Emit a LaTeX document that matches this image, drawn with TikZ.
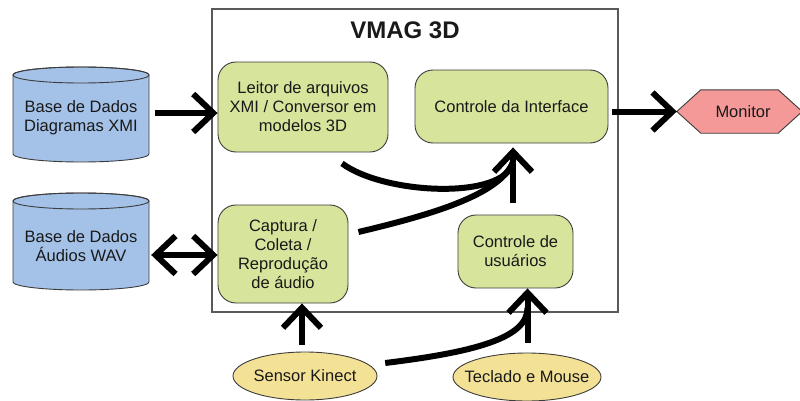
\documentclass[tikz,border=0pt]{standalone}
\usepackage{fontspec}
\setmainfont{Liberation Sans}
\usetikzlibrary{arrows.meta,shapes.geometric}
\definecolor{boxgreen}{RGB}{215,228,156}
\definecolor{cylblue}{RGB}{164,194,232}
\definecolor{ellyellow}{RGB}{243,226,150}
\definecolor{monred}{RGB}{244,152,152}
\definecolor{edge}{RGB}{60,60,60}
\begin{document}
\begin{tikzpicture}[x=1pt,y=1pt,
  txt/.style={font=\fontsize{16.5}{19}\selectfont, align=center, text=black!90},
  gbox/.style={txt, draw=edge, line width=0.9pt, fill=boxgreen, rounded corners=18pt, inner sep=0pt},
  shapeline/.style={draw=edge, line width=0.9pt},
  big/.style={line width=6pt, -{Straight Barb[length=20pt,width=38pt]}},
  bigboth/.style={line width=6pt, {Straight Barb[length=20pt,width=38pt]}-{Straight Barb[length=20pt,width=38pt]}},
  curve/.style={line width=6pt},
]
\useasboundingbox (0,0) rectangle (800,400);
% main frame
\node[draw=black!65, line width=1.3pt, minimum width=406, minimum height=303, inner sep=0pt] (vmag) at (415,239.5) {};
\node[font=\fontsize{24}{28}\selectfont\bfseries, text=black!90] (title) at (405,370) {VMAG 3D};
% inner blocks
\node[gbox, minimum width=170, minimum height=90] (leitor) at (303,293) {Leitor de arquivos\\XMI / Conversor em\\modelos 3D};
\node[gbox, minimum width=193, minimum height=73] (ci) at (511.5,293.5) {Controle da Interface};
\node[gbox, minimum width=130, minimum height=98] (cap) at (283,146) {Captura /\\Coleta /\\Reprodução\\de áudio};
\node[gbox, minimum width=115, minimum height=73] (cu) at (515.5,148.5) {Controle de\\usuários};
% databases
\path[shapeline, fill=cylblue] (13,325) -- (13,246) arc[start angle=180, end angle=360, x radius=68, y radius=8] -- (149,325) arc[start angle=0, end angle=180, x radius=68, y radius=8] -- cycle;
\draw[shapeline] (81,325) ellipse[x radius=68, y radius=8];
\node[minimum width=136, minimum height=90, inner sep=0pt] (db1) at (81,287) {};
\node[txt] (db1t) at (81,282) {Base de Dados\\Diagramas XMI};
\path[shapeline, fill=cylblue] (13,199) -- (13,118) arc[start angle=180, end angle=360, x radius=68, y radius=8] -- (149,199) arc[start angle=0, end angle=180, x radius=68, y radius=8] -- cycle;
\draw[shapeline] (81,199) ellipse[x radius=68, y radius=8];
\node[minimum width=136, minimum height=90, inner sep=0pt] (db2) at (81,145) {};
\node[txt] (db2t) at (81,154) {Base de Dados\\Áudios WAV};
% monitor
\node[minimum width=125, minimum height=43, inner sep=0pt] (mon) at (739.5,288.5) {};
\path[shapeline, fill=monred] (mon.west) -- ([xshift=24pt]mon.north west) -- ([xshift=-24pt]mon.north east) -- (mon.east) -- ([xshift=-24pt]mon.south east) -- ([xshift=24pt]mon.south west) -- cycle;
\node[txt] (mont) at (743,288) {Monitor};
% devices
\path[shapeline, fill=ellyellow] (305,24) ellipse[x radius=72, y radius=24];
\node[txt, minimum width=144, minimum height=48, inner sep=0pt] (sk) at (305,24) {Sensor Kinect};
\path[shapeline, fill=ellyellow] (527,23) ellipse[x radius=74, y radius=24];
\node[txt, minimum width=148, minimum height=48, inner sep=0pt] (tm) at (527,23) {Teclado e Mouse};
% junctions
\coordinate (j1) at (513,238);
\coordinate (j2) at (527.5,92);
% connectors
\draw[big, shorten <=6pt] (db1.east) -- (db1.east -| leitor.west);
\draw[bigboth, shorten <=2pt] (db2.east) -- (db2.east -| cap.west);
\draw[big, shorten <=4pt] (ci.east |- mon.west) -- (mon.west);
\draw[big] ([xshift=-3pt,yshift=7pt]sk.north) -- ([xshift=-3pt]sk.north |- cap.south);
\draw[big] ([xshift=0.5pt,yshift=10pt]tm.north) -- ([xshift=0.5pt]tm.north |- cu.south);
\draw[curve] ([xshift=8pt,yshift=13pt]sk.east) .. controls (475,48) and (527.5,62) .. (j2);
\draw[big, shorten >=4pt] ([xshift=-2.5pt,yshift=12pt]cu.north) -- ([xshift=-2.5pt]cu.north |- ci.south);
\draw[curve] ([xshift=39pt,yshift=-11pt]leitor.south) .. controls (385,205) and (505,200) .. (j1);
\draw[curve] ([xshift=10pt,yshift=22pt]cap.east) .. controls (430,185) and (500,205) .. (j1);
\end{tikzpicture}
\end{document}
